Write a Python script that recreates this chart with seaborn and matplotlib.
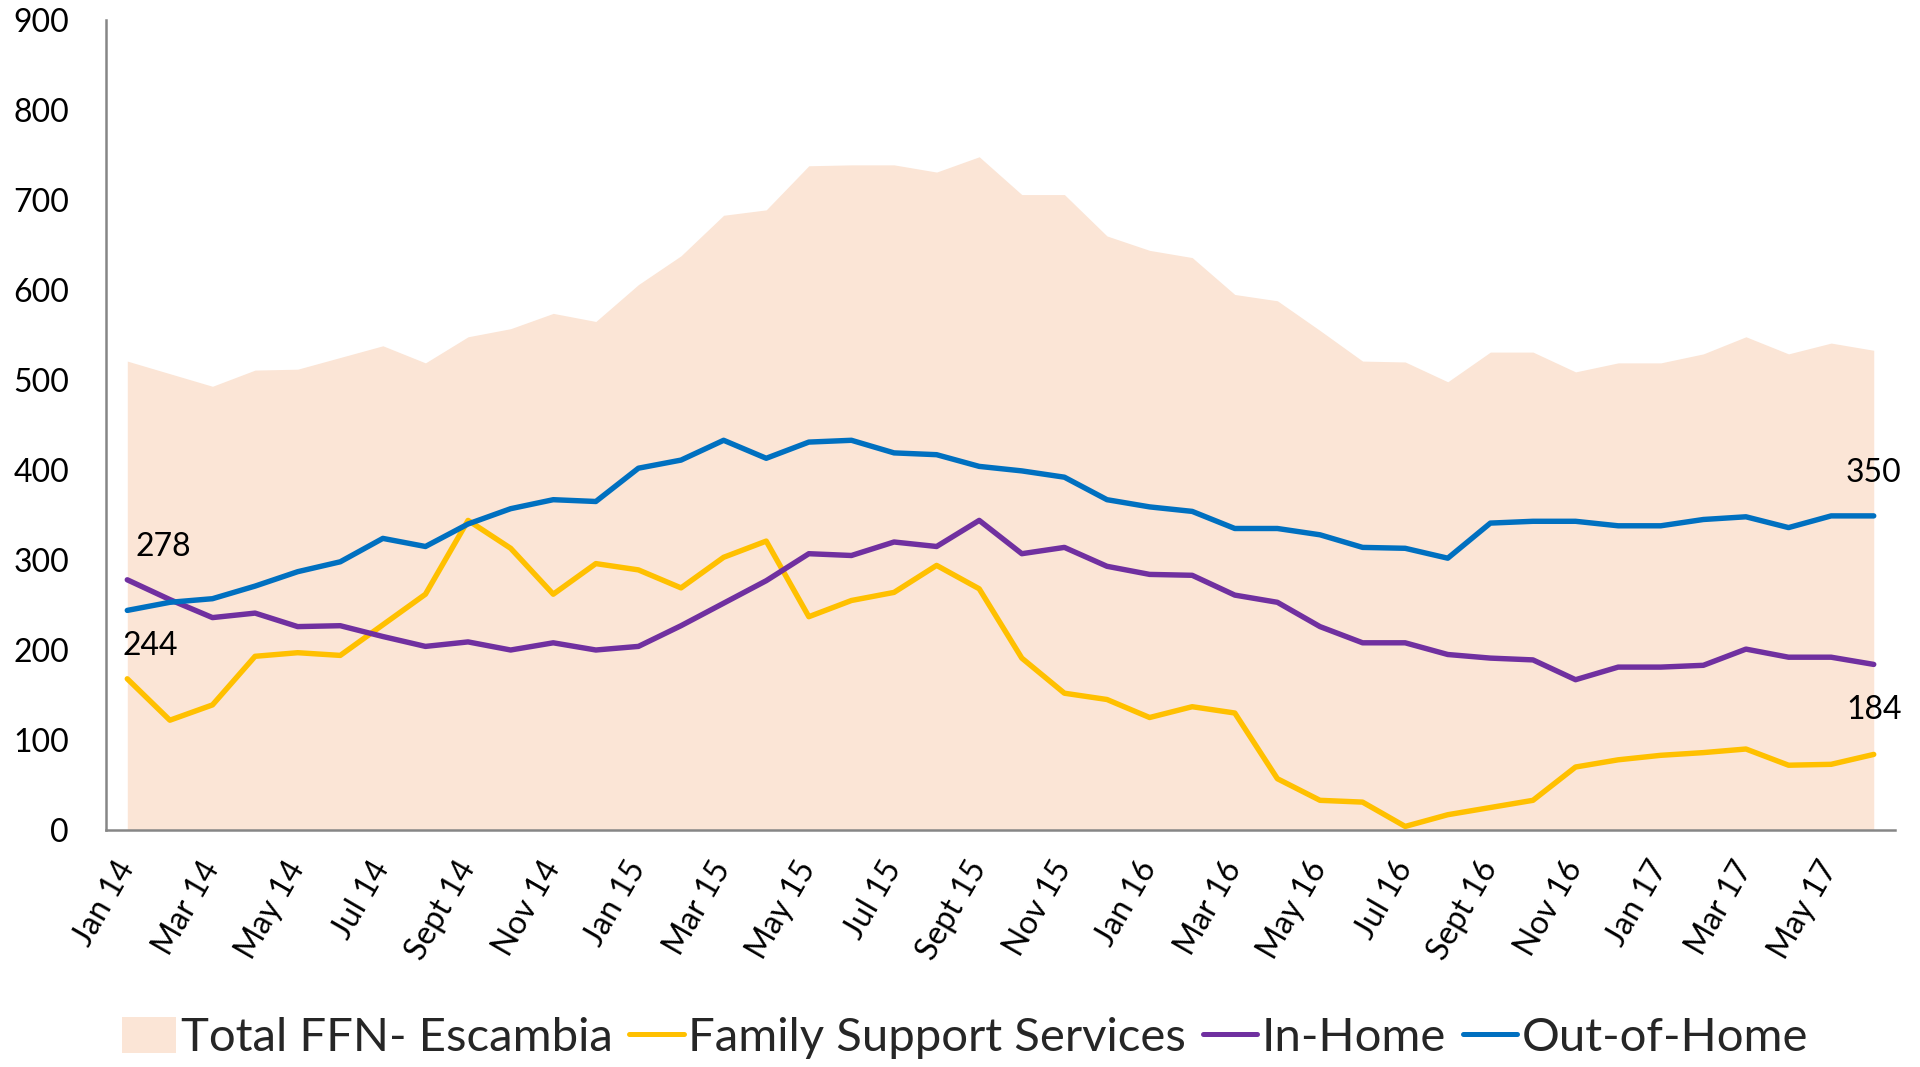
import matplotlib
matplotlib.use("Agg")
import matplotlib.pyplot as plt
from matplotlib.patches import Patch
from matplotlib.lines import Line2D
import numpy as np
import pandas as pd
import seaborn as sns

# monthly counts, Jan 2014 - Jun 2017
months = ["Jan 14", "Feb 14", "Mar 14", "Apr 14", "May 14", "Jun 14", "Jul 14", "Aug 14",
          "Sept 14", "Oct 14", "Nov 14", "Dec 14",
          "Jan 15", "Feb 15", "Mar 15", "Apr 15", "May 15", "Jun 15", "Jul 15", "Aug 15",
          "Sept 15", "Oct 15", "Nov 15", "Dec 15",
          "Jan 16", "Feb 16", "Mar 16", "Apr 16", "May 16", "Jun 16", "Jul 16", "Aug 16",
          "Sept 16", "Oct 16", "Nov 16", "Dec 16",
          "Jan 17", "Feb 17", "Mar 17", "Apr 17", "May 17", "Jun 17"]

tick_labels = ["Jan 14", "Mar 14", "May 14", "Jul 14", "Sept 14", "Nov 14",
               "Jan 15", "Mar 15", "May 15", "Jul 15", "Sept 15", "Nov 15",
               "Jan 16", "Mar 16", "May 16", "Jul 16", "Sept 16", "Nov 16",
               "Jan 17", "Mar 17", "May 17"]

total_ffn = [521, 507, 493, 511, 512, 525, 538, 519, 548, 557, 574, 565,
             606, 638, 683, 689, 738, 739, 739, 731, 748, 706, 706, 660,
             644, 636, 595, 588, 555, 521, 520, 498, 531, 531, 509, 519,
             519, 529, 548, 529, 541, 533]

family_support = [168, 122, 139, 193, 197, 194, 228, 262, 344, 313, 262, 296,
                  289, 269, 303, 321, 237, 255, 264, 294, 268, 191, 152, 145,
                  125, 137, 130, 57, 33, 31, 4, 17, 25, 33, 70, 78,
                  83, 86, 90, 72, 73, 84]

in_home = [278, 256, 236, 241, 226, 227, 215, 204, 209, 200, 208, 200,
           204, 227, 252, 277, 307, 305, 320, 315, 344, 307, 314, 293,
           284, 283, 261, 253, 226, 208, 208, 195, 191, 189, 167, 181,
           181, 183, 201, 192, 192, 184]

out_of_home = [244, 253, 257, 271, 287, 298, 324, 315, 340, 357, 367, 365,
               402, 411, 433, 413, 431, 433, 419, 417, 404, 399, 392, 367,
               359, 354, 335, 335, 328, 314, 313, 302, 341, 343, 343, 338,
               338, 345, 348, 336, 349, 349]

series_names = ["Family Support Services", "In-Home", "Out-of-Home"]
colors = {"Family Support Services": "#FFC000", "In-Home": "#7030A0", "Out-of-Home": "#0070C0"}
fill_color = "#FBE5D6"
axis_gray = "#868686"

x = np.arange(len(months))
df = pd.DataFrame({"idx": x, "month": months,
                   "Family Support Services": family_support,
                   "In-Home": in_home,
                   "Out-of-Home": out_of_home})
df_long = df.melt(id_vars=["idx", "month"], value_vars=series_names,
                  var_name="series", value_name="value")

sns.set_theme(style="white")
plt.rcParams["font.family"] = ["Lato", "DejaVu Sans"]

fig = plt.figure(figsize=(19.2, 10.67), dpi=100)
ax = fig.add_axes([0.0552, 0.2221, 0.9318, 0.7592])

ax.fill_between(x, total_ffn, color=fill_color, linewidth=0, zorder=1)
sns.lineplot(data=df_long, x="idx", y="value", hue="series", hue_order=series_names,
             palette=colors, linewidth=3.9, sort=False, legend=False, ax=ax, zorder=3)

ax.set_xlim(-0.5, len(months) - 0.5)
ax.set_ylim(0, 900)
ax.set_yticks(range(0, 901, 100))
ax.set_xlabel("")
ax.set_ylabel("")

for s in ["top", "right"]:
    ax.spines[s].set_visible(False)
for s in ["left", "bottom"]:
    ax.spines[s].set_color(axis_gray)
    ax.spines[s].set_linewidth(1.8)

ax.tick_params(axis="y", which="major", direction="out", length=8.6, width=1.5,
               color=axis_gray, labelsize=23, pad=18, labelcolor="black")

# category boundaries get the tick marks, labels sit under every other month
ax.set_xticks(np.arange(-0.5, len(months), 1), minor=True)
ax.set_xticks(x[::2])
ax.set_xticklabels(tick_labels, rotation=60, ha="right", va="center",
                   rotation_mode="anchor")
ax.tick_params(axis="x", which="minor", direction="out", length=8.6, width=1.5,
               color=axis_gray)
ax.tick_params(axis="x", which="major", length=0, labelsize=23, pad=24,
               labelcolor="black")
ax.grid(False)

# end-point data labels
for txt, xi, yi in [("278", 0.85, 314), ("244", 0.55, 205),
                    ("350", 41, 397), ("184", 41, 133)]:
    ax.text(xi, yi, txt, ha="center", va="center", fontsize=23, color="black", zorder=4)

handles = [Patch(facecolor=fill_color, edgecolor="none")] + \
          [Line2D([0], [0], color=colors[n], linewidth=3.6) for n in series_names]
labels = ["Total FFN- Escambia"] + series_names
fig.legend(handles, labels, loc="center", bbox_to_anchor=(0.5026, 0.027), ncol=4,
           frameon=False, fontsize=34, handlelength=1.15, handleheight=0.8,
           handletextpad=0.1, columnspacing=0.35, borderpad=0)

fig.savefig("out.png", dpi=100)
